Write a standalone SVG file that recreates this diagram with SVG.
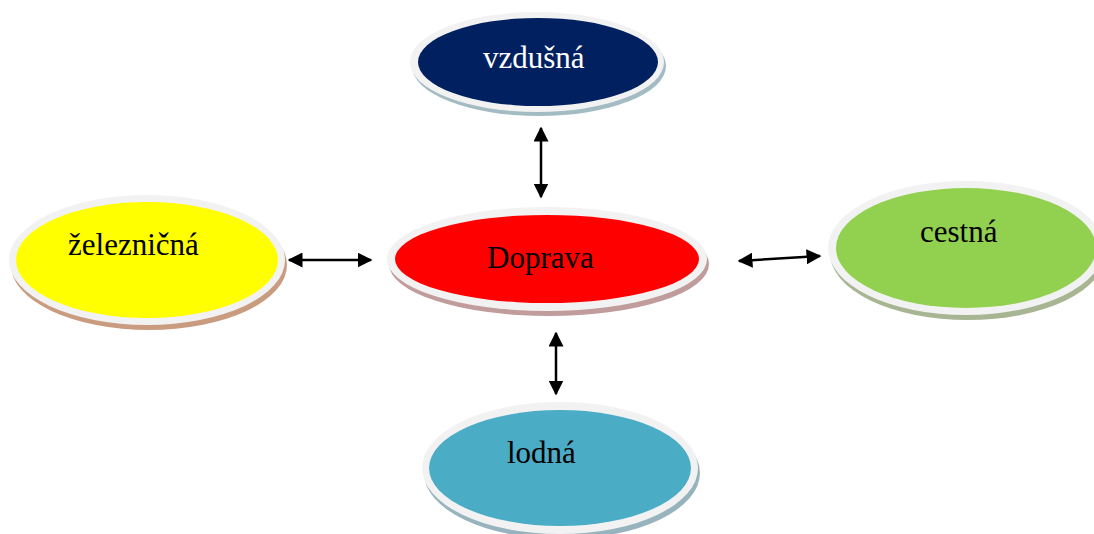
<svg xmlns="http://www.w3.org/2000/svg" width="1094" height="534" viewBox="0 0 1094 534">
<defs>
<style>
.rim{fill:#f2f2f2;}
.lbl{font-family:"Liberation Serif","Times New Roman",serif;font-size:31px;fill:#000;}
.con{stroke:#000;stroke-width:2.5;fill:none;marker-start:url(#ah);marker-end:url(#ah);}
</style>
<marker id="ah" viewBox="0 0 10 10" refX="9" refY="5" markerWidth="6" markerHeight="6" orient="auto-start-reverse" markerUnits="strokeWidth">
<path d="M0,0 L10,5 L0,10 Z" fill="#000"/>
</marker>
</defs>
<rect width="1094" height="534" fill="#fff"/>
<g id="vzdusna">
<ellipse cx="539" cy="66" rx="127" ry="50" fill="#a3bcc4"/>
<ellipse class="rim" cx="537" cy="62" rx="127" ry="50"/>
<ellipse cx="538" cy="62" rx="120" ry="44" fill="#002060"/>
<text class="lbl" x="483" y="68" style="fill:#fff">vzdušná</text>
</g>
<g id="doprava">
<ellipse cx="549" cy="264" rx="160" ry="52" fill="#c09c9c"/>
<ellipse class="rim" cx="547" cy="259" rx="160" ry="52"/>
<ellipse cx="547" cy="259" rx="152" ry="44" fill="#ff0000"/>
<text class="lbl" x="487" y="268">Doprava</text>
</g>
<g id="zeleznicna">
<ellipse cx="149" cy="265" rx="138" ry="65" fill="#c99c80"/>
<ellipse class="rim" cx="147" cy="260" rx="138" ry="65"/>
<ellipse cx="147" cy="260" rx="131" ry="58" fill="#ffff00"/>
<text class="lbl" x="68" y="255">železničná</text>
</g>
<g id="cestna">
<ellipse cx="968" cy="253" rx="138" ry="67" fill="#a8b593"/>
<ellipse class="rim" cx="966" cy="248" rx="138" ry="67"/>
<ellipse cx="966" cy="248" rx="130" ry="60" fill="#92d050"/>
<text class="lbl" x="920" y="242">cestná</text>
</g>
<g id="lodna">
<ellipse cx="562" cy="473" rx="138" ry="66" fill="#97b3bd"/>
<ellipse class="rim" cx="560" cy="468" rx="138" ry="66"/>
<ellipse cx="560" cy="468" rx="131" ry="58" fill="#4bacc6"/>
<text class="lbl" x="507" y="463">lodná</text>
</g>
<g id="connectors">
<line class="con" x1="541" y1="128" x2="541" y2="197"/>
<line class="con" x1="556" y1="333" x2="556" y2="394"/>
<line class="con" x1="289" y1="260" x2="371" y2="260"/>
<line class="con" x1="739" y1="261" x2="820" y2="256"/>
</g>
</svg>
